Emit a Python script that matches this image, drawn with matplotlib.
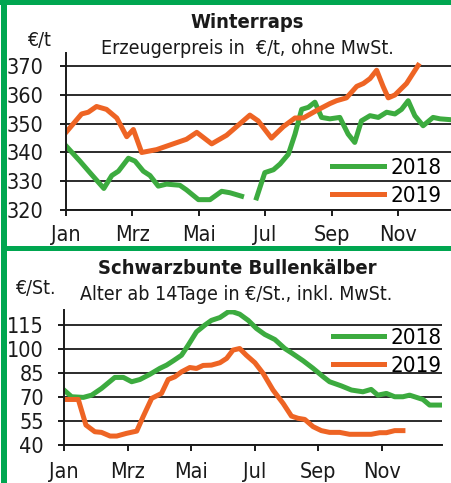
import numpy as np
from matplotlib import pyplot as plt
from matplotlib import font_manager
from matplotlib.patches import Rectangle

# pick a narrow face if one is installed
faces = {(f.name, str(f.stretch)) for f in font_manager.fontManager.ttflist}
if any(n == 'Liberation Sans Narrow' for n, _ in faces):
    plt.rcParams['font.family'] = ['Liberation Sans Narrow', 'DejaVu Sans']
elif ('DejaVu Sans', 'condensed') in faces or ('DejaVu Sans', 'semi-condensed') in faces:
    plt.rcParams['font.family'] = ['DejaVu Sans']
    plt.rcParams['font.stretch'] = 'condensed'
else:
    plt.rcParams['font.family'] = ['Liberation Sans', 'DejaVu Sans']

TICK_FS = 15.5
LEG_FS = 16
TITLE_FS = 14.5
SUB_FS = 14

GREEN = '#3cab3f'
ORANGE = '#ee6424'
FRAME = '#00a650'
INK = '#1a1a1a'

months = ['Jan', 'Mrz', 'Mai', 'Jul', 'Sep', 'Nov']
month_pos = [0, 2, 4, 6, 8, 10]

# Winterraps, x in months since 1 Jan
raps_2018_x = [0, 0.42, 0.72, 1.14, 1.38, 1.58, 1.88, 2.08, 2.33, 2.53, 2.78, 3.03,
               3.43, 3.63, 3.99, 4.34, 4.69, 4.94, 5.29, 5.5, 5.74, 5.99, 6.25,
               6.45, 6.7, 6.9, 7.1, 7.3, 7.5, 7.7, 7.95, 8.25, 8.5, 8.7, 8.9,
               9.16, 9.41, 9.66, 9.91, 10.11, 10.31, 10.51, 10.76, 11.06, 11.27, 11.6]
raps_2018 = [342.3, 337, 333, 327.5, 332, 333.5, 338, 337, 333.5, 332, 328.3, 329,
             328.6, 327, 323.6, 323.6, 326.5, 326, 324.8, np.nan, 324.2, 333, 334,
             336, 339.4, 346.4, 355, 355.7, 357.5, 352.2, 351.7, 352.2, 346.4, 343.5, 351,
             352.8, 352.2, 354, 353.4, 355, 358, 352.8, 349.3, 352.2, 351.7, 351.4]
raps_2019_x = [0, 0.47, 0.67, 0.92, 1.22, 1.53, 1.83, 2.03, 2.28, 2.73, 3.23, 3.63,
               3.94, 4.39, 4.84, 5.24, 5.54, 5.79, 6.19, 6.55, 6.9, 7.15, 7.55, 7.95,
               8.15, 8.45, 8.76, 8.96, 9.16, 9.36, 9.56, 9.71, 9.91, 10.26, 10.61]
raps_2019 = [347, 353.4, 354, 356, 355, 352, 345.5, 348, 340, 341, 343, 344.6,
             347, 343, 346, 350, 353, 351, 345, 349, 352, 352, 354.6, 357,
             358, 359, 363, 364, 365.7, 368.6, 362.8, 359, 360, 364, 370.3]

# Schwarzbunte Bullenkaelber
kalb_2018_x = [0, 0.24, 0.61, 0.87, 1.18, 1.6, 1.87, 2.13, 2.39, 2.7, 3.02, 3.23,
               3.44, 3.7, 3.91, 4.17, 4.43, 4.64, 4.91, 5.17, 5.32, 5.53, 5.8, 6.06,
               6.32, 6.64, 6.95, 7.16, 7.53, 7.84, 8.16, 8.36, 8.73, 9.05, 9.41, 9.67,
               9.88, 10.15, 10.41, 10.67, 10.88, 11.3, 11.51, 11.88]
kalb_2018 = [74.4, 70.2, 69.8, 71.2, 75.4, 82.3, 82.3, 79.6, 81, 84.2, 88, 90,
             92.7, 96.2, 102.5, 110.8, 115, 118, 119.8, 123.3, 123.3, 121.9, 118, 112.9,
             109.2, 106, 100.4, 97.7, 92.7, 88, 82.7, 79.6, 77, 74.4, 73.3, 74.8,
             71.2, 72.3, 70.2, 70.2, 71.2, 68.5, 65, 65]
kalb_2019_x = [0, 0.45, 0.69, 0.97, 1.18, 1.45, 1.66, 1.97, 2.29, 2.49, 2.76, 3.07,
               3.28, 3.49, 3.7, 3.96, 4.17, 4.38, 4.64, 4.91, 5.12, 5.32, 5.53, 5.74,
               6.01, 6.27, 6.58, 6.9, 7.16, 7.37, 7.58, 7.84, 8.1, 8.36, 8.68, 8.99,
               9.31, 9.67, 9.94, 10.15, 10.41, 10.67]
kalb_2019 = [68.5, 68.5, 52.5, 48.3, 47.9, 45.6, 45.6, 47.3, 48.7, 57.7, 69.2, 72.3,
             81, 82.7, 85.8, 88.5, 87.9, 89.8, 90, 91.5, 94.2, 99.4, 100.4, 96.2,
             91.5, 84.8, 74.4, 66, 58.1, 56.7, 56, 51.5, 49, 47.9, 47.9, 46.7,
             46.7, 46.7, 47.7, 47.7, 49, 49]

W, H = 451, 483
fig = plt.figure(figsize=(W / 100, H / 100), dpi=100)


def px(x0, y0, x1, y1):
    """Axes rect from pixel box (top-left origin)."""
    return [x0 / W, 1 - y1 / H, (x1 - x0) / W, (y1 - y0) / H]


def style(ax, yticks, ylim, xmax, ypad, xpad):
    ax.set_xlim(0, xmax)
    ax.set_ylim(*ylim)
    ax.set_yticks(yticks)
    ax.set_xticks(month_pos)
    ax.set_xticklabels(months)
    for s in ('top', 'right'):
        ax.spines[s].set_visible(False)
    for s in ('left', 'bottom'):
        ax.spines[s].set_linewidth(1.4)
        ax.spines[s].set_color(INK)
    ax.grid(axis='y', color=INK, linewidth=1.3)
    ax.set_axisbelow(True)
    ax.tick_params(axis='both', direction='out', length=4.5, width=1.4,
                   color=INK, labelsize=TICK_FS, labelcolor=INK)
    ax.tick_params(axis='y', pad=ypad)
    ax.tick_params(axis='x', pad=xpad)


ax1 = fig.add_axes(px(66, 53, 451, 210))
ax1.plot(raps_2018_x, raps_2018, color=GREEN, lw=3.6, label='2018')
ax1.plot(raps_2019_x, raps_2019, color=ORANGE, lw=3.6, label='2019')
style(ax1, [320, 330, 340, 350, 360, 370], (320, 374.6), 11.6, 12, 6.5)
ax1.legend(loc='lower right', bbox_to_anchor=(0.975, 0.025), frameon=False,
           fontsize=LEG_FS, handlelength=2.3, handletextpad=0.3, labelspacing=0.37,
           borderpad=0, borderaxespad=0)

ax2 = fig.add_axes(px(64, 310, 442, 445))
ax2.plot(kalb_2018_x, kalb_2018, color=GREEN, lw=3.6, label='2018')
ax2.plot(kalb_2019_x, kalb_2019, color=ORANGE, lw=3.6, label='2019')
style(ax2, [40, 55, 70, 85, 100, 115], (40, 124.5), 11.9, 10, 8)
ax2.legend(loc='upper right', bbox_to_anchor=(1.0, 0.87), frameon=False,
           fontsize=LEG_FS, handlelength=2.3, handletextpad=0.3, labelspacing=0.37,
           borderpad=0, borderaxespad=0)

# titles
fig.text(247 / W, 1 - 23 / H, 'Winterraps', ha='center', va='center',
         fontsize=TITLE_FS, fontweight='bold', color=INK)
fig.text(247 / W, 1 - 49 / H, 'Erzeugerpreis in  €/t, ohne MwSt.', ha='center',
         va='center', fontsize=SUB_FS, color=INK)
fig.text(27 / W, 1 - 41 / H, '€/t', ha='left', va='center', fontsize=SUB_FS,
         color=INK)
fig.text(237 / W, 1 - 268 / H, 'Schwarzbunte Bullenkälber', ha='center',
         va='center', fontsize=TITLE_FS, fontweight='bold', color=INK)
fig.text(236 / W, 1 - 295 / H, 'Alter ab 14Tage in €/St., inkl. MwSt.',
         ha='center', va='center', fontsize=SUB_FS, color=INK)
fig.text(15 / W, 1 - 289 / H, '€/St.', ha='left', va='center', fontsize=SUB_FS,
         color=INK)

# green frame
for x0, y0, x1, y1 in [(0, 0, W, 5), (1, 0, 7, H), (1, 246, W, 251)]:
    fig.add_artist(Rectangle((x0 / W, 1 - y1 / H), (x1 - x0) / W, (y1 - y0) / H,
                             transform=fig.transFigure, color=FRAME, lw=0))

fig.savefig('out.png', dpi=100)
